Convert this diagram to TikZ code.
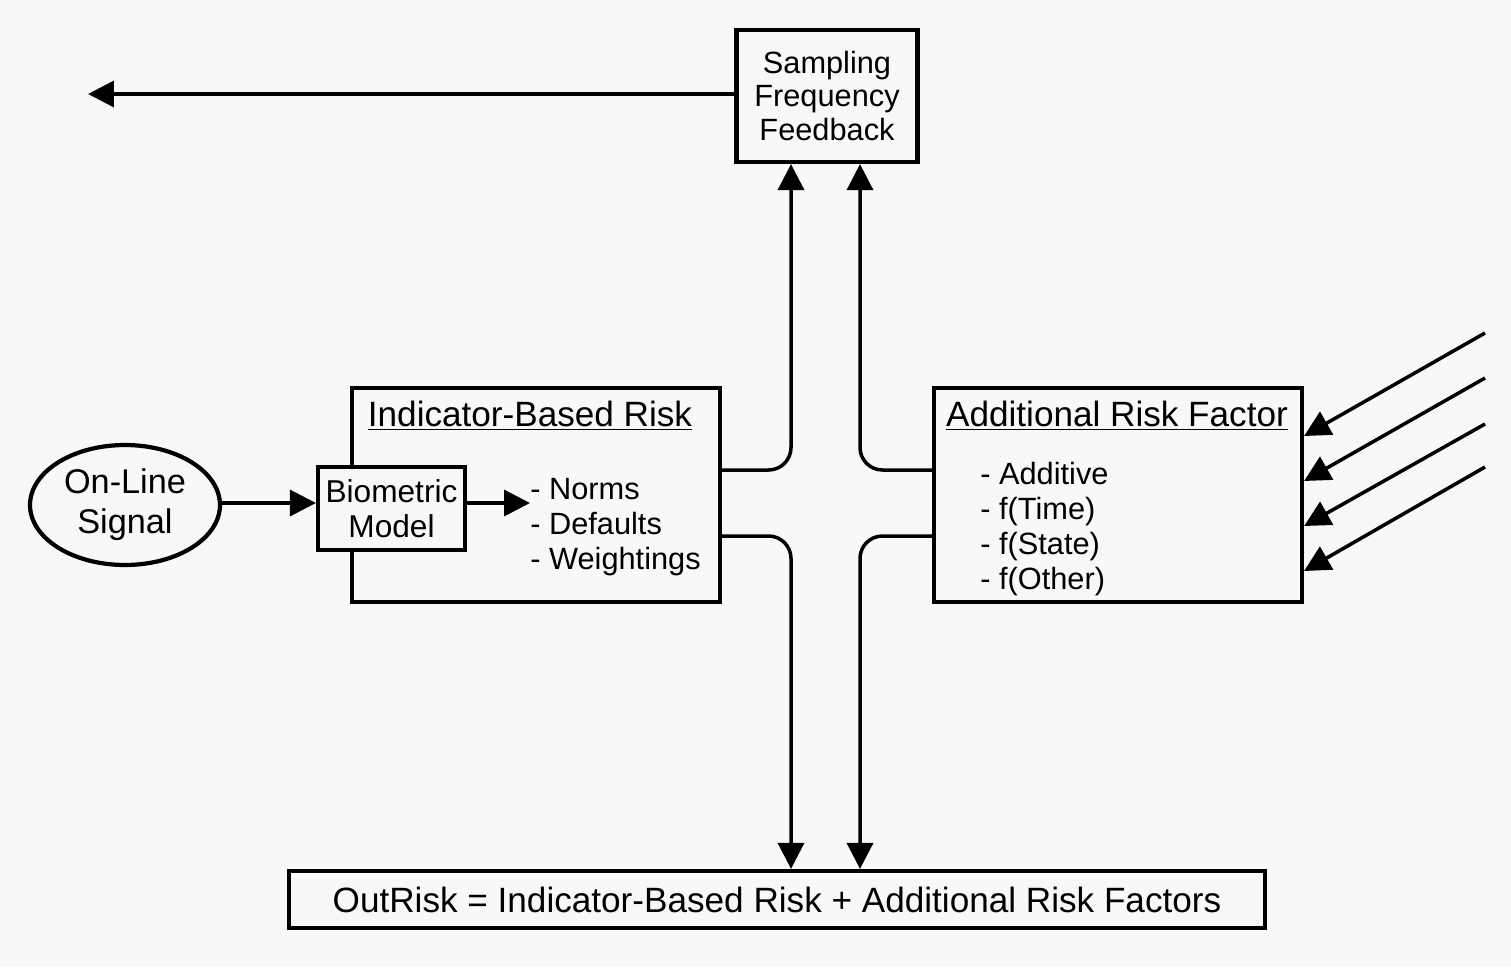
\documentclass[tikz,border=0pt]{standalone}
\usepackage{fontspec}
\setmainfont{Liberation Sans}
\usetikzlibrary{arrows.meta,shapes}
\definecolor{paper}{RGB}{248,248,248}
\tikzstyle{block}=[draw,line width=2.4pt,fill=paper,inner sep=0pt,align=center]
\tikzstyle{flow}=[draw,line width=2pt,-{Triangle[length=0.52cm,width=0.52cm]}]
\tikzstyle{turnflow}=[flow,rounded corners=0.45cm]
\tikzstyle{title}=[font=\fontsize{20}{24}\selectfont,inner sep=0pt]
\tikzstyle{items}=[font=\fontsize{17.5}{19.9}\selectfont,align=left,anchor=west,inner sep=0pt]

\begin{document}
\begin{tikzpicture}[x=0.02cm,y=-0.02cm]
    % paper
    \fill[paper] (0,0) rectangle (1511,967);
    \useasboundingbox (0,0) rectangle (1511,967);

    % the boxes
    \node[block,minimum width=3.62cm,minimum height=2.64cm,font=\fontsize{17.5}{19.3}\selectfont] (sff) at (827,96) {Sampling\\Frequency\\Feedback};
    \node[block,minimum width=7.36cm,minimum height=4.28cm] (ind) at (536,495) {};
    \node[block,minimum width=7.36cm,minimum height=4.28cm] (add) at (1118,495) {};
    \node[block,minimum width=2.94cm,minimum height=1.66cm,font=\fontsize{18}{19.8}\selectfont] (bio) at (391.5,508.5) {Biometric\\Model};
    \node[block,ellipse,minimum width=3.8cm,minimum height=2.4cm,font=\fontsize{19.5}{22.7}\selectfont] (sig) at (125,505) {On-Line\\Signal};
    \node[block,minimum width=19.52cm,minimum height=1.14cm,font=\fontsize{20}{24}\selectfont] (out) at (777,899.5) {OutRisk = Indicator-Based Risk + Additional Risk Factors};

    % the texts inside
    \node[title] (indt) at (530,416) {\underline{Indicator-Based Risk}};
    \node[title] (addt) at (1117,416) {\underline{Additional Risk Factor}};
    \node[items] (norms) at (530,527) {- Norms\\- Defaults\\- Weightings};
    \node[items] (kinds) at (980,529) {- Additive\\- f(Time)\\- f(State)\\- f(Other)};

    % free ends
    \coordinate (back) at (88,94);
    \foreach \i/\y in {1/333, 2/378, 3/424, 4/467}
        \coordinate (in\i) at (1485,\y);

    % connectors
    \path[flow] (sff.west |- 0,94) -- (back);
    \path[flow] (sig.east |- 0,503) -- (bio.west |- 0,503);
    \path[flow] (bio.east |- 0,503) -- (norms.west |- 0,503);
    \path[turnflow] (ind.east |- 0,470) -| (sff.south -| 791,0);
    \path[turnflow] (ind.east |- 0,536) -| (out.north -| 791,0);
    \path[turnflow] (add.west |- 0,470) -| (sff.south -| 860,0);
    \path[turnflow] (add.west |- 0,536) -| (out.north -| 860,0);
    \foreach \i/\y in {1/436, 2/481, 3/526, 4/571}
        \path[flow] (in\i) -- (add.east |- 0,\y);

\end{tikzpicture}
\end{document}
